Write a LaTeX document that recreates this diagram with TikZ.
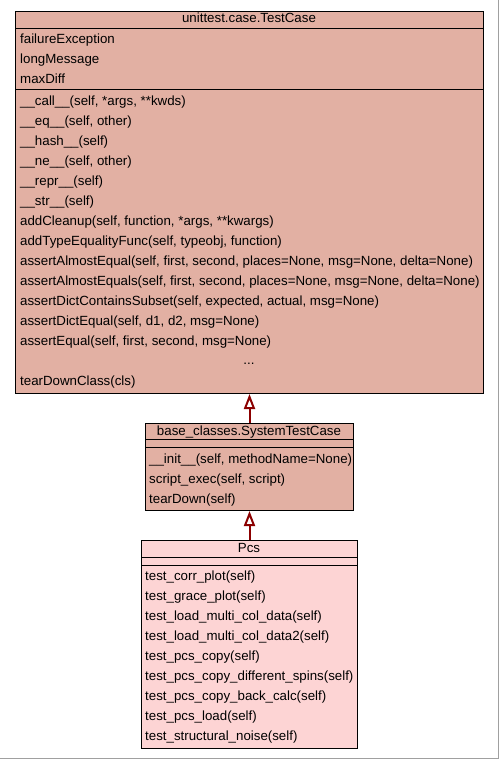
\documentclass[tikz,border=0pt]{standalone}
\usepackage{fontspec}
\setmainfont{Liberation Sans}
\usepackage{xcolor}
\definecolor{cBase}{HTML}{E2B0A3}
\definecolor{cLeaf}{HTML}{FDD4D4}
\definecolor{cLine}{HTML}{8B0000}
\definecolor{cFrame}{HTML}{A0A0A0}
\usetikzlibrary{arrows.meta}
\tikzset{
  class-box/.style={draw=black,line width=1pt,anchor=north west,inner sep=0pt,fill=cBase},
  class-leaf/.style={fill=cLeaf},
  class-title/.style={anchor=base,inner sep=0pt,yshift=-4pt,font=\fontsize{13.3}{16}\selectfont},
  member/.style={anchor=base west,inner sep=0pt,yshift=-4.5pt,font=\fontsize{13.3}{16}\selectfont},
  sep/.style={draw=black,line width=1pt},
  arrow-inherit/.style={-{Triangle[open,length=15pt,width=11pt]},line width=2pt,draw=cLine},
}

\begin{document}
\begin{tikzpicture}[x=1pt,y=-1pt]
  \useasboundingbox (0,0) rectangle (499,759);
  \fill[white] (0,0) rectangle (499,759);
  \draw[cFrame] (0,758.5) -- (498.5,758.5) -- (498.5,0);
  % unittest.case.TestCase
  \node[class-box,minimum width=468pt,minimum height=382pt] (TestCase) at (15,11) {};
  \node[class-title] (TestCase-name) at (249,19) {unittest.case.TestCase};
  \draw[sep] (15,29) -- (483,29);
  \draw[sep] (15,90) -- (483,90);
  \foreach \txt [count=\i] in {failureException, longMessage, maxDiff}
    \node[member] at (20,{19+20*\i}) {\txt};
  \foreach \txt [count=\i] in {\_\_call\_\_(self{,} *args{,} **kwds),
      \_\_eq\_\_(self{,} other), \_\_hash\_\_(self), \_\_ne\_\_(self{,} other),
      \_\_repr\_\_(self), \_\_str\_\_(self),
      {addCleanup(self, function, *args, **kwargs)},
      {addTypeEqualityFunc(self, typeobj, function)},
      {assertAlmostEqual(self, first, second, places=None, msg=None, delta=None)},
      {assertAlmostEquals(self, first, second, places=None, msg=None, delta=None)},
      {assertDictContainsSubset(self, expected, actual, msg=None)},
      {assertDictEqual(self, d1, d2, msg=None)},
      {assertEqual(self, first, second, msg=None)}}
    \node[member] at (20,{81+20*\i}) {\txt};
  \node[class-title] (TestCase-more) at (249,360) {...};
  \node[member] at (20,381) {tearDownClass(cls)};

  % base_classes.SystemTestCase
  \node[class-box,minimum width=208pt,minimum height=87pt] (SystemTestCase) at (145,423) {};
  \node[class-title] (SystemTestCase-name) at (249,431) {base\_classes.SystemTestCase};
  \draw[sep] (145,439) -- (353,439);
  \draw[sep] (145,447) -- (353,447);
  \foreach \txt [count=\i] in {{\_\_init\_\_(self, methodName=None)},
      {script\_exec(self, script)}, tearDown(self)}
    \node[member] at (149,{439+20*\i}) {\txt};

  % Pcs
  \node[class-box,class-leaf,minimum width=216pt,minimum height=208pt] (Pcs) at (141,540) {};
  \node[class-title] (Pcs-name) at (249,548) {Pcs};
  \draw[sep] (141,557) -- (357,557);
  \draw[sep] (141,565) -- (357,565);
  \foreach \txt [count=\i] in {test\_corr\_plot(self), test\_grace\_plot(self),
      test\_load\_multi\_col\_data(self), test\_load\_multi\_col\_data2(self),
      test\_pcs\_copy(self), test\_pcs\_copy\_different\_spins(self),
      test\_pcs\_copy\_back\_calc(self), test\_pcs\_load(self),
      test\_structural\_noise(self)}
    \node[member] at (145,{556+20*\i}) {\txt};

  \draw[arrow-inherit] (SystemTestCase.north) -- (TestCase.south);
  \draw[arrow-inherit] (Pcs.north) -- (SystemTestCase.south);
\end{tikzpicture}
\end{document}
